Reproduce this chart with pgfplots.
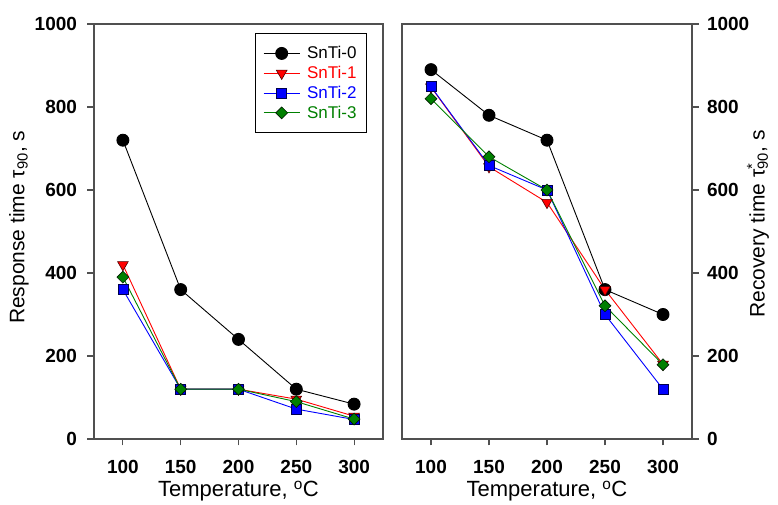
\documentclass[border=0pt]{standalone}
\usepackage{pgfplots}
\pgfplotsset{compat=1.18}
\usepackage{fontspec}
\setmainfont{Liberation Sans}
\definecolor{dgreen}{RGB}{0,128,0}
\definecolor{axgray}{RGB}{80,80,80}
\pgfplotsset{
  panel/.style={
    anchor=south west, scale only axis, height=415pt,
    xmin=75, xmax=325, ymin=0, ymax=1000,
    xtick={100,150,200,250,300}, ytick={0,200,400,600,800,1000},
    tick align=outside, xtick pos=bottom,
    major tick length=6.5pt,
    axis line style={axgray, line width=1.1pt},
    every tick/.style={axgray, line width=1.1pt},
    /pgf/number format/assume math mode=true,
    /pgf/number format/set thousands separator={},
    ticklabel style={font=\bfseries\fontsize{19}{21}\selectfont},
    xticklabel style={yshift=-11pt},
    ylabel style={font=\fontsize{21}{23}\selectfont},
    xlabel style={font=\fontsize{22}{24}\selectfont, at={(axis description cs:0.5,-0.1253)}, anchor=center},
    xlabel={Temperature, \textsuperscript{o}C},
  },
  s0/.style={black, line width=0.9pt, mark=*, mark size=6pt, mark options={fill=black, draw=black, solid}},
  s1/.style={red, line width=0.9pt, mark=triangle*, mark size=6.2pt, mark options={fill=red, draw=black!70!red, rotate=180, line width=0.6pt}},
  s2/.style={blue, line width=0.9pt, mark=square*, mark size=5pt, mark options={fill=blue, draw=black!70!blue, line width=0.6pt}},
  s3/.style={dgreen, line width=0.9pt, mark=square*, mark size=4.2pt, mark options={fill=dgreen, draw=black!80!dgreen, rotate=45, line width=0.6pt}},
}
\begin{document}
\begin{tikzpicture}
\path[use as bounding box] (0,0) rectangle (778pt,505pt);
\begin{axis}[panel, at={(94pt,66pt)}, width=289pt, ytick pos=left,
  yticklabel style={xshift=-7pt},
  ylabel={Response time τ\textsubscript{90}, s},
  ylabel style={at={(axis description cs:-0.2595,0.51)}, anchor=center},
  legend cell align=left,
  legend style={at={(0.9446,0.978)}, anchor=north east, draw=black, line width=0.8pt,
    font=\fontsize{17}{19}\selectfont, inner xsep=8pt, inner ysep=11pt, row sep=2pt,
    /tikz/every odd column/.append style={column sep=5pt}},
  legend image code/.code={\draw[mark repeat=2, mark phase=2] plot coordinates {(0pt,0pt) (18pt,0pt) (36pt,0pt)};},
]
\addplot+[s0] coordinates {(100,720) (150,360) (200,240) (250,120) (300,84)};
\addlegendentry{SnTi-0}
\addplot+[s1] coordinates {(100,420) (150,120) (200,120) (250,96) (300,55)};
\addlegendentry{\textcolor{red}{SnTi-1}}
\addplot+[s2] coordinates {(100,360) (150,120) (200,120) (250,72) (300,47)};
\addlegendentry{\textcolor{blue}{SnTi-2}}
\addplot+[s3] coordinates {(100,390) (150,120) (200,120) (250,90) (300,48)};
\addlegendentry{\textcolor{dgreen}{SnTi-3}}
\end{axis}
\begin{axis}[panel, at={(402pt,66pt)}, width=290pt, ytick pos=right, yticklabel pos=right,
  yticklabel style={xshift=5pt},
  ylabel={Recovery time τ\rlap{\textsuperscript{*}}\textsubscript{90}, s},
  ylabel style={at={(axis description cs:1.2276,0.518)}, anchor=center},
]
\addplot+[s0] coordinates {(100,890) (150,780) (200,720) (250,360) (300,300)};
\addplot+[s1] coordinates {(100,848) (150,656) (200,570) (250,360) (300,180)};
\addplot+[s2] coordinates {(100,849) (150,659) (200,600) (250,300) (300,120)};
\addplot+[s3] coordinates {(100,820) (150,680) (200,600) (250,321) (300,179)};
\end{axis}
\end{tikzpicture}
\end{document}
